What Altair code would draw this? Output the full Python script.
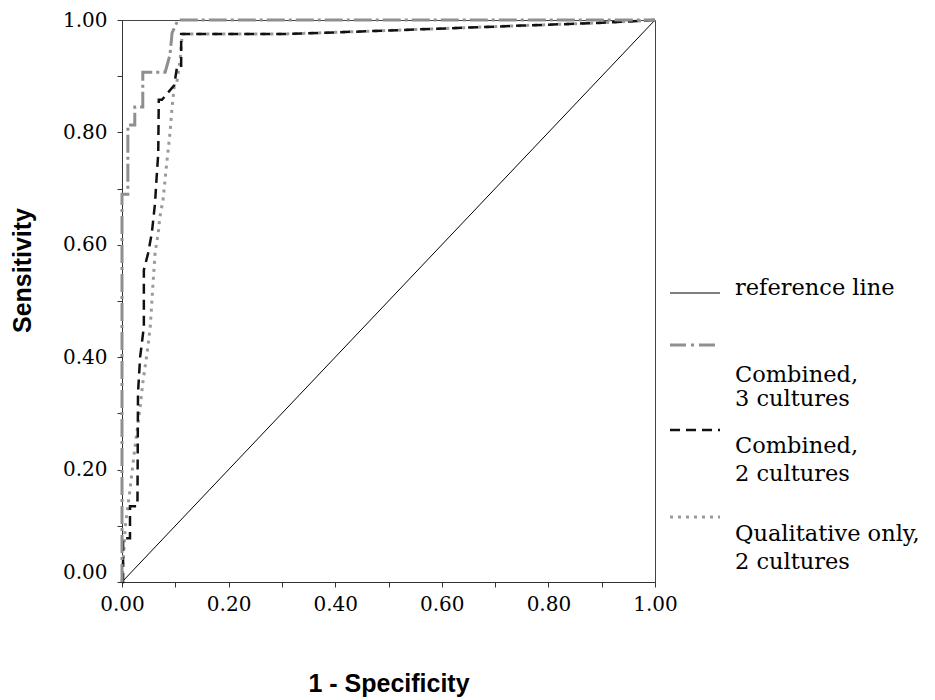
import altair as alt
import pandas as pd

# ---- data ----
ref_x = [0.0, 1.0]
ref_y = [0.0, 1.0]

c3_x = [0.0, 0.0, 0.011, 0.011, 0.024, 0.024, 0.039, 0.039, 0.081, 0.090, 0.094, 0.105, 1.0]
c3_y = [0.0, 0.69, 0.69, 0.813, 0.813, 0.845, 0.845, 0.907, 0.907, 0.938, 0.977, 1.0, 1.0]

c2_x = [0.0, 0.002, 0.002, 0.015, 0.015, 0.029, 0.030, 0.034, 0.041, 0.041, 0.049, 0.056,
        0.062, 0.064, 0.068, 0.069, 0.075, 0.098, 0.103, 0.111, 0.111, 0.30, 0.40, 0.55,
        0.75, 0.90, 1.0]
c2_y = [0.0, 0.0, 0.078, 0.078, 0.135, 0.135, 0.336, 0.400, 0.454, 0.555, 0.585, 0.621,
        0.674, 0.706, 0.763, 0.858, 0.858, 0.884, 0.915, 0.915, 0.975, 0.975, 0.978, 0.983,
        0.990, 0.995, 1.0]

q2_x = [0.0, 0.006, 0.015, 0.021, 0.028, 0.034, 0.039, 0.047, 0.053, 0.058, 0.062, 0.068,
        0.071, 0.077, 0.084, 0.090, 0.094, 0.098, 0.103, 0.109, 0.113, 0.30, 0.40, 0.55,
        0.75, 0.90, 1.0]
q2_y = [0.0, 0.098, 0.164, 0.214, 0.267, 0.311, 0.354, 0.407, 0.454, 0.528, 0.585, 0.621,
        0.649, 0.680, 0.746, 0.799, 0.845, 0.881, 0.890, 0.929, 0.975, 0.975, 0.978, 0.983,
        0.990, 0.995, 1.0]

legend_labels = ["reference line", "Combined,\n3 cultures", "Combined,\n2 cultures",
                 "Qualitative only,\n2 cultures"]
tick_values = [0.0, 0.1, 0.2, 0.3, 0.4, 0.5, 0.6, 0.7, 0.8, 0.9, 1.0]

SERIF = "DejaVu Serif"
COND = '"Liberation Sans", Arial, sans-serif'


def frame(xs, ys):
    return pd.DataFrame({"fpr": xs, "tpr": ys, "i": list(range(len(xs)))})


lab_expr = "round(datum.value * 10) % 2 == 0 ? format(datum.value, '.2f') : ''"

x_enc = alt.X(
    "fpr:Q",
    scale=alt.Scale(domain=[0, 1], nice=False, zero=False),
    axis=alt.Axis(
        values=tick_values, labelExpr=lab_expr, grid=False, tickSize=5,
        labelFlush=False, labelOverlap=False, labelPadding=7,
        title="1 - Specificity", titleY=101, titleBaseline="middle",
        titleFont=COND, titleFontSize=25, titleFontWeight="bold", titleColor="black",
    ),
)
y_enc = alt.Y(
    "tpr:Q",
    scale=alt.Scale(domain=[0, 1], nice=False, zero=False),
    axis=alt.Axis(
        values=tick_values, labelExpr=lab_expr, grid=False, tickSize=5,
        labelOverlap=False, labelPadding=10,
        labelBaseline=alt.condition("datum.value == 0", alt.value("bottom"), alt.value("middle")),
        title="Sensitivity", titleX=-100, titleY=250, titleAngle=-90, titleBaseline="middle",
        titleFont=COND, titleFontSize=25, titleFontWeight="bold", titleColor="black",
    ),
)
order = alt.Order("i:Q")

ref_line = alt.Chart(frame(ref_x, ref_y)).mark_line(color="black", strokeWidth=1).encode(
    x=x_enc, y=y_enc, order=order)

q2_line = alt.Chart(frame(q2_x, q2_y)).mark_line(
    color="#9a9a9a", strokeWidth=3, strokeDash=[3, 5]).encode(x=x_enc, y=y_enc, order=order)

c2_line = alt.Chart(frame(c2_x, c2_y)).mark_line(
    color="#111111", strokeWidth=2.5, strokeDash=[10, 6]).encode(x=x_enc, y=y_enc, order=order)

c3_line = alt.Chart(frame(c3_x, c3_y)).mark_line(
    color="#8f8f8f", strokeWidth=3, strokeDash=[18, 4, 3, 4]).encode(x=x_enc, y=y_enc, order=order)

# ---- legend (drawn beside the plot) ----
sym_styles = [
    dict(color="black", strokeWidth=1),
    dict(color="#8f8f8f", strokeWidth=3, strokeDash=[16, 5, 3, 5]),
    dict(color="#111111", strokeWidth=2.5, strokeDash=[10, 6]),
    dict(color="#9a9a9a", strokeWidth=3, strokeDash=[3, 5]),
]
sym_y = [273, 325, 410, 497]
text_y = [[268], [355, 379], [426, 454], [514, 542]]

legend_layers = []
one = pd.DataFrame({"k": [0]})
for lab, st, sy, tys in zip(legend_labels, sym_styles, sym_y, text_y):
    legend_layers.append(
        alt.Chart(one).mark_rule(**st).encode(
            x=alt.value(548), x2=alt.value(598), y=alt.value(sy))
    )
    for line, ty in zip(lab.split("\n"), tys):
        legend_layers.append(
            alt.Chart(pd.DataFrame({"t": [line]})).mark_text(
                align="left", baseline="middle", font=SERIF, fontSize=22.5, color="black"
            ).encode(text="t:N", x=alt.value(613), y=alt.value(ty))
        )

chart = alt.layer(ref_line, q2_line, c2_line, c3_line, *legend_layers).properties(
    width=533, height=562,
    autosize=alt.AutoSizeParams(type="none"),
    padding={"left": 122, "top": 20, "right": 280, "bottom": 118},
    background="white",
).configure_axis(
    domainColor="#333333", tickColor="#333333", labelColor="black",
    labelFont=SERIF, labelFontSize=20,
).configure_view(stroke="#444444", strokeWidth=1)

chart.save("out.html", embed_options={"renderer": "svg", "actions": False})
